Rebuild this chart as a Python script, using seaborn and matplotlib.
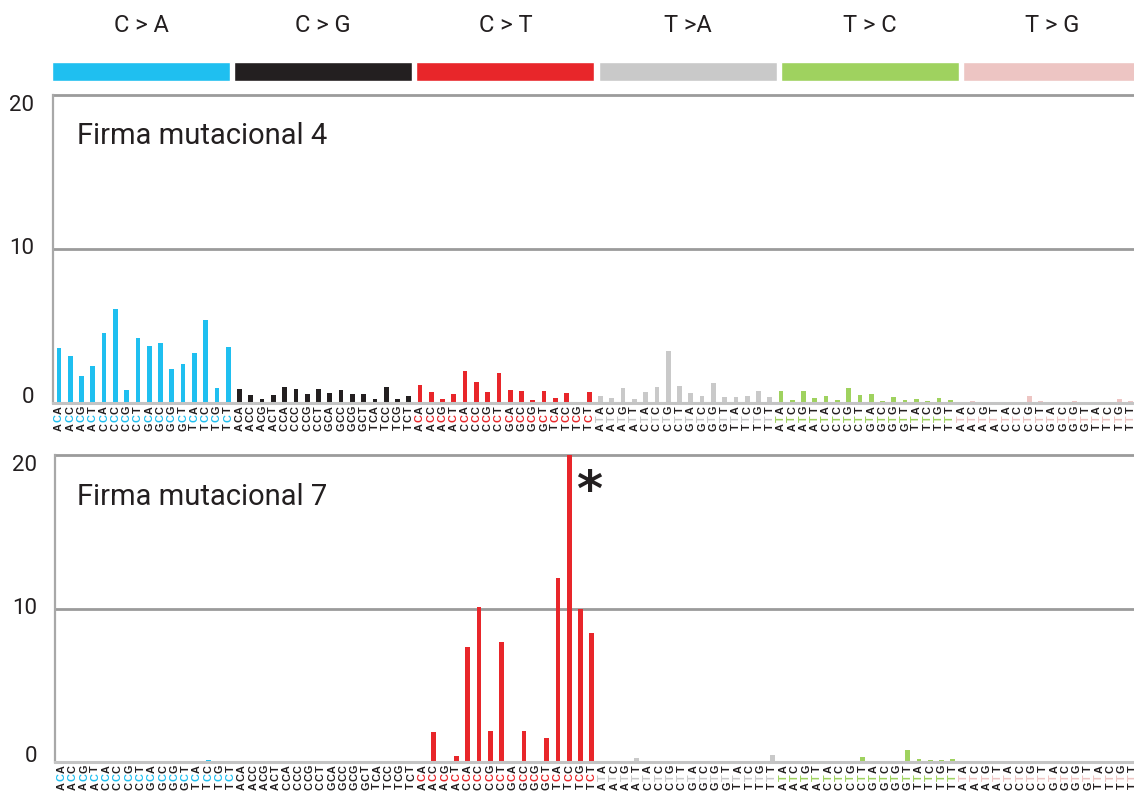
import matplotlib
matplotlib.use("Agg")
import matplotlib.pyplot as plt
import seaborn as sns
import pandas as pd

# mutation classes and their colours
mutation_types = ["C>A", "C>G", "C>T", "T>A", "T>C", "T>G"]
header_labels = ["C > A", "C > G", "C > T", "T >A", "T > C", "T > G"]
type_colors = ["#1fbff0", "#231f20", "#e8262a", "#c9c9c9", "#9fd25f", "#edc5c3"]

# 5' and 3' flanking bases for the 16 contexts of every class
flanks = ["A_A", "A_C", "A_G", "A_T", "C_A", "C_C", "C_G", "C_T",
          "G_A", "G_C", "G_G", "G_T", "T_A", "T_C", "T_G", "T_T"]

# Firma mutacional 4 (%)
sig4_CA = [3.55, 3.05, 1.73, 2.40, 4.57, 6.08, 0.82, 4.24, 3.72, 3.92, 2.20, 2.53, 3.27, 5.37, 0.95, 3.66]
sig4_CG = [0.89, 0.50, 0.26, 0.50, 1.02, 0.89, 0.56, 0.89, 0.63, 0.82, 0.56, 0.56, 0.26, 1.02, 0.26, 0.43]
sig4_CT = [1.17, 0.71, 0.24, 0.58, 2.08, 1.36, 0.71, 1.95, 0.82, 0.76, 0.18, 0.76, 0.30, 0.63, 0.05, 0.69]
sig4_TA = [0.43, 0.30, 0.95, 0.24, 0.69, 1.02, 3.38, 1.08, 0.63, 0.43, 1.30, 0.37, 0.37, 0.43, 0.76, 0.37]
sig4_TC = [0.77, 0.18, 0.77, 0.31, 0.44, 0.18, 0.99, 0.51, 0.57, 0.12, 0.38, 0.18, 0.25, 0.12, 0.31, 0.18]
sig4_TG = [0.03, 0.10, 0.07, 0.05, 0.03, 0.07, 0.43, 0.10, 0.03, 0.03, 0.13, 0.07, 0.03, 0.07, 0.25, 0.10]

# Firma mutacional 7 (%)
sig7_CA = [0.05, 0.03, 0.02, 0.05, 0.02, 0.05, 0.02, 0.05, 0.03, 0.05, 0.02, 0.03, 0.05, 0.15, 0.05, 0.05]
sig7_CG = [0.02, 0.02, 0.02, 0.03, 0.03, 0.02, 0.02, 0.02, 0.02, 0.03, 0.02, 0.02, 0.03, 0.08, 0.02, 0.03]
sig7_CT = [0.00, 1.95, 0.03, 0.37, 7.52, 10.10, 2.02, 7.84, 0.00, 2.02, 0.03, 1.54, 12.00, 20.00, 9.95, 8.43]
sig7_TA = [0.03, 0.03, 0.05, 0.29, 0.03, 0.08, 0.03, 0.08, 0.03, 0.03, 0.03, 0.03, 0.05, 0.05, 0.03, 0.43]
sig7_TC = [0.03, 0.03, 0.03, 0.03, 0.03, 0.03, 0.03, 0.35, 0.03, 0.03, 0.03, 0.76, 0.17, 0.12, 0.12, 0.17]
sig7_TG = [0.03, 0.02, 0.03, 0.03, 0.02, 0.03, 0.05, 0.03, 0.02, 0.03, 0.03, 0.02, 0.03, 0.03, 0.03, 0.05]

sig4 = [sig4_CA, sig4_CG, sig4_CT, sig4_TA, sig4_TC, sig4_TG]
sig7 = [sig7_CA, sig7_CG, sig7_CT, sig7_TA, sig7_TC, sig7_TG]

rows = []
for t, v4, v7 in zip(mutation_types, sig4, sig7):
    for f, a, b in zip(flanks, v4, v7):
        rows.append({"channel": f"{f[0]}[{t}]{f[2]}", "context": f[0] + t[0] + f[2],
                     "type": t, "sig4": a, "sig7": b})
df = pd.DataFrame(rows)
palette = dict(zip(mutation_types, type_colors))

sns.set_style("white")
plt.rcParams["font.family"] = ["Roboto", "DejaVu Sans"]

W, H = 1134, 793
fig = plt.figure(figsize=(W / 100, H / 100), dpi=100)

def px_box(left, top, right, bottom):
    return [left / W, 1 - bottom / H, (right - left) / W, (bottom - top) / H]

grid_color = "#9b9b9b"
axis_color = "#a8a8a8"
base_color = "#c4c4c4"

# header strip
ax0 = fig.add_axes(px_box(52, 62, 52 + 6 * 182.2, 81))
ax0.bar(range(6), [1] * 6, width=0.977, align="edge", color=type_colors)
ax0.set_xlim(0, 6)
ax0.set_ylim(0, 1)
ax0.axis("off")
for k, lab in enumerate(header_labels):
    fig.text((52 + 182.2 * k + 89) / W, 1 - 25 / H, lab, ha="center", va="center",
             fontsize=17, color="#231f20")

panels = [("sig4", "Firma mutacional 4", px_box(52.5, 95, 1142, 403), 136),
          ("sig7", "Firma mutacional 7", px_box(55, 455, 1144.5, 762), 497)]

letter_offsets = [17.2, 11.1, 5.0]

for col, title, box, title_y in panels:
    ax = fig.add_axes(box)
    sns.barplot(data=df, x="channel", y=col, hue="type", palette=palette, dodge=False,
                width=0.42, saturation=1, linewidth=0, legend=False, ax=ax)
    ax.set_xlim(-0.576, 96.0)
    ax.set_ylim(0, 20)
    ax.set_xlabel("")
    ax.set_ylabel("")
    ax.set_xticks([])
    ax.set_yticks([0, 10, 20])
    ax.tick_params(axis="y", length=0, pad=13, labelsize=16, labelcolor="#231f20")
    for lbl, va in zip(ax.get_yticklabels(), ["baseline", "center", "top"]):
        lbl.set_verticalalignment(va)
    for side in ["top", "right"]:
        ax.spines[side].set_visible(False)
    ax.spines["left"].set_color(axis_color)
    ax.spines["left"].set_linewidth(1.6)
    ax.spines["bottom"].set_color(base_color)
    ax.spines["bottom"].set_linewidth(2.2)
    for y in [10, 20]:
        ax.axhline(y, color=grid_color, lw=2.0, clip_on=False, zorder=0.5)

    trans = ax.get_xaxis_transform()
    for i, row in df.iterrows():
        mid_color = palette[row["type"]]
        for k, ch in enumerate(row["context"]):
            ax.annotate(ch, xy=(i, 0), xycoords=trans, xytext=(0, -letter_offsets[k]),
                        textcoords="offset points", rotation=90, ha="center", va="center",
                        fontsize=7.8, fontweight="bold", family="Liberation Sans",
                        color=mid_color if k == 1 else "#231f20")

    fig.text(77 / W, 1 - title_y / H, title, ha="left", va="center", fontsize=21,
             color="#231f20")

    if col == "sig7":
        ax.text(46.8, 17.6, "*", ha="center", va="center", fontsize=36,
                fontweight="bold", family="DejaVu Sans", color="#231f20")

fig.savefig("out.png", dpi=100)
